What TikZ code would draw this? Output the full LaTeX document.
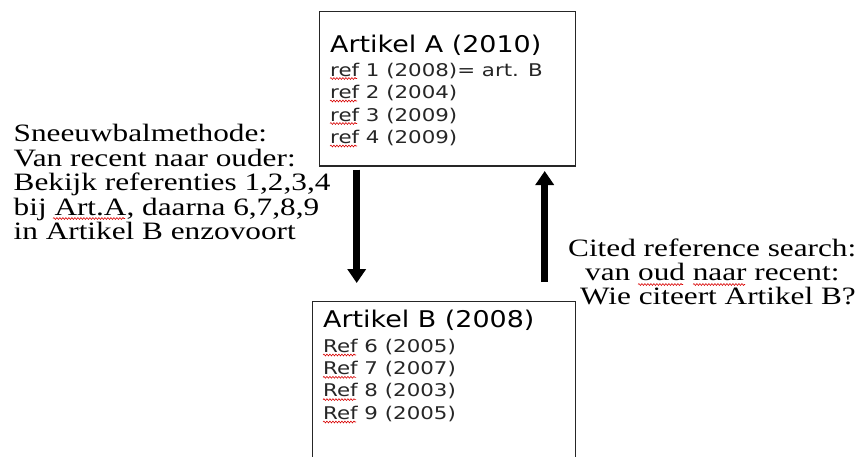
\documentclass[tikz,border=0pt]{standalone}
\usepackage{fontspec}
\usetikzlibrary{arrows.meta,decorations.pathmorphing}
\newfontfamily\serifw[FakeStretch=1.25]{Liberation Serif}
\newfontfamily\boxtitlefont[FakeStretch=1.17]{DejaVu Sans}
\newfontfamily\boxreffont[FakeStretch=1.22]{DejaVu Sans}
\tikzset{
  artbox/.style={draw=black!85,line width=1.3pt,rectangle,inner sep=0pt,anchor=north west},
  titleline/.style={anchor=base west,inner sep=0pt,font=\boxtitlefont\fontsize{23}{23}\selectfont},
  refline/.style={anchor=base west,inner sep=0pt,text=black!85,font=\boxreffont\fontsize{17.5}{17.5}\selectfont},
  sideline/.style={anchor=base west,inner sep=0pt,font=\serifw\fontsize{25}{25}\selectfont},
  bigarrow/.style={line width=7pt,-{Triangle[width=18pt,length=14pt]}},
  squiggle/.style={red!85!black,line width=0.6pt,decorate,decoration={snake,amplitude=0.9pt,segment length=3pt}}
}
\begin{document}
\begin{tikzpicture}[x=1pt,y=-1pt]
\useasboundingbox (0,0) rectangle (858,456);
\clip (0,0) rectangle (858,456);
\fill[white] (0,0) rectangle (858,456);
% boxes
\node[artbox,minimum width=256pt,minimum height=154.5pt] (boxA) at (319,10.7) {};
\node[artbox,minimum width=263pt,minimum height=180pt] (boxB) at (312,301) {};
% box A text
\node[titleline] (a0) at (330,52) {Artikel A (2010)};
\node[refline] (a1) at (330,76) {ref 1 (2008)= art. B};
\node[refline] (a2) at (330,98.5) {ref 2 (2004)};
\node[refline] (a3) at (330,121) {ref 3 (2009)};
\node[refline] (a4) at (330,143.5) {ref 4 (2009)};
% box B text
\node[titleline] (b0) at (323,327.5) {Artikel B (2008)};
\node[refline] (b1) at (323,352) {Ref 6 (2005)};
\node[refline] (b2) at (323,374.3) {Ref 7 (2007)};
\node[refline] (b3) at (323,396.6) {Ref 8 (2003)};
\node[refline] (b4) at (323,419) {Ref 9 (2005)};
% left text
\node[sideline] (l1) at (13.5,141.5) {Sneeuwbalmethode:};
\node[sideline] (l2) at (13.5,166.1) {Van recent naar ouder:};
\node[sideline] (l3) at (13.5,190.7) {Bekijk referenties 1,2,3,4};
\node[sideline] (l4) at (13.5,215.3) {bij Art.A,\ daarna 6,7,8,9};
\node[sideline] (l5) at (13.5,239.9) {in Artikel B enzovoort};
% right text
\node[sideline] (r1) at (568,256.5) {Cited reference search:};
\node[sideline] (r2) at (585,280.5) {van oud naar recent:};
\node[sideline] (r3) at (580,304.5) {Wie citeert Artikel B?};
% arrows
\coordinate (dx) at (356.7,0);
\coordinate (ux) at (544.7,0);
\draw[bigarrow,shorten <=3pt,shorten >=18pt] (boxA.south -| dx) -- (boxB.north -| dx);
\draw[bigarrow,shorten <=19pt,shorten >=4.5pt] (boxB.north -| ux) -- (boxA.south -| ux);
% spell-check squiggles
\foreach \n in {a1,a2,a3,a4}{\draw[squiggle] ([yshift=-2.5pt]\n.base west) -- ++(27,0);}
\foreach \n in {b1,b2,b3,b4}{\draw[squiggle] ([yshift=-3pt]\n.base west) -- ++(33,0);}
\draw[squiggle] (53,218.5) -- (125,218.5);
\draw[squiggle] (638,284.5) -- (683,284.5);
\draw[squiggle] (693,284.5) -- (745,284.5);
\end{tikzpicture}
\end{document}
